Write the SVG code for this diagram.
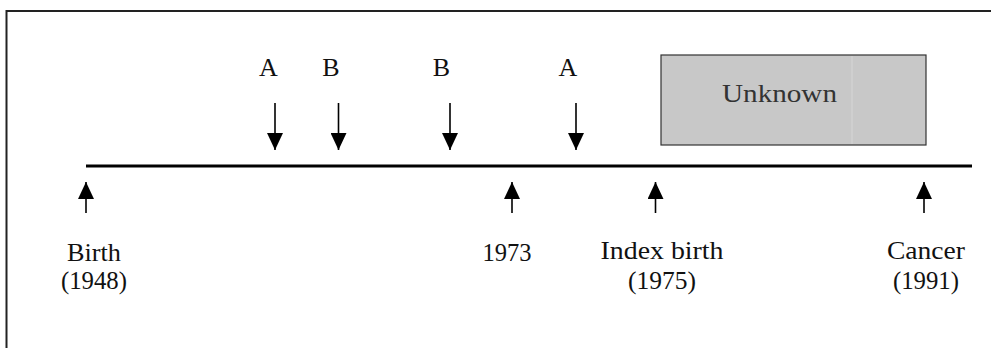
<svg xmlns="http://www.w3.org/2000/svg" width="991" height="348" viewBox="0 0 991 348">
  <style>
    text { font-family: "Liberation Serif", "Times New Roman", serif; font-size: 26px; fill: #111; }
    .mid { text-anchor: middle; }
    .frame { fill: none; stroke: #222; stroke-width: 2; }
    .axis { stroke: #000; stroke-width: 3; }
    .arrow { stroke: #000; stroke-width: 1.6; fill: none; marker-end: url(#head); }
    .box { fill: #c8c8c8; stroke: #333; stroke-width: 1.2; }
  </style>
  <defs>
    <marker id="head" markerUnits="userSpaceOnUse" markerWidth="17" markerHeight="16" refX="17" refY="8" orient="auto">
      <path d="M0,0 L17,8 L0,16 Z" fill="#000"/>
    </marker>
  </defs>

  <rect width="991" height="348" fill="#fff"/>
  <!-- outer frame (open at right and bottom) -->
  <rect class="frame" x="6.5" y="11" width="1000" height="360"/>

  <!-- time axis -->
  <line class="axis" x1="86" y1="166" x2="972" y2="166"/>

  <!-- unknown period -->
  <g id="unknown">
    <rect class="box" x="661" y="55" width="265" height="90"/>
    <line x1="852" y1="56" x2="852" y2="144" stroke="#d6d6d6" stroke-width="1"/>
    <text class="mid" x="779.5" y="102" textLength="115" lengthAdjust="spacingAndGlyphs" style="fill:#333">Unknown</text>
  </g>

  <!-- exposure markers -->
  <g id="exposure-a1"><text class="mid" x="268.5" y="76">A</text></g>
  <g id="exposure-b1"><text class="mid" x="331" y="76">B</text></g>
  <g id="exposure-b2"><text class="mid" x="441.5" y="76">B</text></g>
  <g id="exposure-a2"><text class="mid" x="568" y="76">A</text></g>

  <!-- events -->
  <g id="birth">
    <text class="mid" x="94" y="261" textLength="54" lengthAdjust="spacingAndGlyphs">Birth</text>
    <text class="mid" x="94" y="289" textLength="66" lengthAdjust="spacingAndGlyphs">(1948)</text>
  </g>
  <g id="y1973">
    <text class="mid" x="507" y="261" textLength="49" lengthAdjust="spacingAndGlyphs">1973</text>
  </g>
  <g id="index-birth">
    <text class="mid" x="662" y="259" textLength="123" lengthAdjust="spacingAndGlyphs">Index birth</text>
    <text class="mid" x="662" y="289" textLength="68" lengthAdjust="spacingAndGlyphs">(1975)</text>
  </g>
  <g id="cancer">
    <text class="mid" x="926" y="259" textLength="78" lengthAdjust="spacingAndGlyphs">Cancer</text>
    <text class="mid" x="926" y="289" textLength="66" lengthAdjust="spacingAndGlyphs">(1991)</text>
  </g>

  <!-- arrows -->
  <g id="connectors">
    <line class="arrow" x1="275" y1="103" x2="275" y2="150"/>
    <line class="arrow" x1="338.5" y1="103" x2="338.5" y2="150"/>
    <line class="arrow" x1="450" y1="103" x2="450" y2="150"/>
    <line class="arrow" x1="576" y1="103" x2="576" y2="150"/>
    <line class="arrow" x1="86" y1="213" x2="86" y2="182"/>
    <line class="arrow" x1="512" y1="213" x2="512" y2="182"/>
    <line class="arrow" x1="655.5" y1="213" x2="655.5" y2="182"/>
    <line class="arrow" x1="924" y1="213" x2="924" y2="182"/>
  </g>
</svg>
